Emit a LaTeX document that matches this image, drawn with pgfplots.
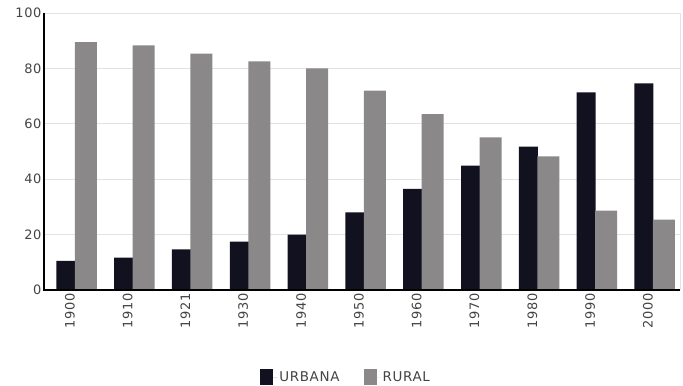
\documentclass[border=0pt]{standalone}
\usepackage{pgfplots}
\pgfplotsset{compat=1.18}
\usepackage{fontspec}
\setmainfont{DejaVu Sans}[LetterSpace=5]
\definecolor{urb}{HTML}{11111F}
\definecolor{rur}{HTML}{8A8888}
\definecolor{gridc}{HTML}{E2E2E2}
\definecolor{txt}{HTML}{444444}
\begin{document}
\begin{tikzpicture}
\begin{axis}[
  scale only axis,
  width=636bp, height=277bp,
  at={(0,0)}, anchor=south west,
  xmin=-0.55, xmax=10.45,
  ymin=0, ymax=100,
  ytick={0,20,40,60,80,100},
  xtick={0,...,10},
  xticklabels={1900,1910,1921,1930,1940,1950,1960,1970,1980,1990,2000},
  xticklabel style={xshift=-6bp, rotate=90, anchor=east, font=\fontsize{13}{15}\selectfont, text=txt},
  yticklabel style={font=\fontsize{13}{15}\selectfont, text=txt, xshift=1bp},
  /pgf/number format/assume math mode=true,
  major tick length=0pt,
  ymajorgrids,
  grid style={gridc, line width=0.8pt},
  axis line style={draw=none},
  clip=false,
  legend style={at={(0.475,-0.314)}, anchor=center, draw=none, legend columns=2,
    font=\fontsize{13.5}{15}\selectfont, text=txt,
    /tikz/every even column/.append style={column sep=22bp}},
  legend image code/.code={\fill[#1] (0bp,-7bp) rectangle (13bp,9bp); \path (0bp,0bp) -- (17bp,0bp);},
]
\addplot[ybar, bar width=19bp, bar shift=-10bp, fill=urb, draw=none] coordinates {
 (0,10.5) (1,11.7) (2,14.7) (3,17.5) (4,20.0) (5,28.0) (6,36.5) (7,44.9) (8,51.8) (9,71.3) (10,74.6)};
\addlegendentry{URBANA}
\addplot[ybar, bar width=22bp, bar shift=10bp, fill=rur, draw=none] coordinates {
 (0,89.5) (1,88.3) (2,85.3) (3,82.5) (4,80.0) (5,72.0) (6,63.5) (7,55.1) (8,48.2) (9,28.7) (10,25.4)};
\addlegendentry{RURAL}
\draw[gridc, line width=0.8pt] (rel axis cs:1,0) -- (rel axis cs:1,1);
\draw[black, line width=1.6pt] (rel axis cs:0,1) -- (rel axis cs:0,0) -- (rel axis cs:1,0);
\end{axis}
\pgfresetboundingbox
\useasboundingbox (-44bp,-96bp) rectangle (639bp,290bp);
\end{tikzpicture}
\end{document}
